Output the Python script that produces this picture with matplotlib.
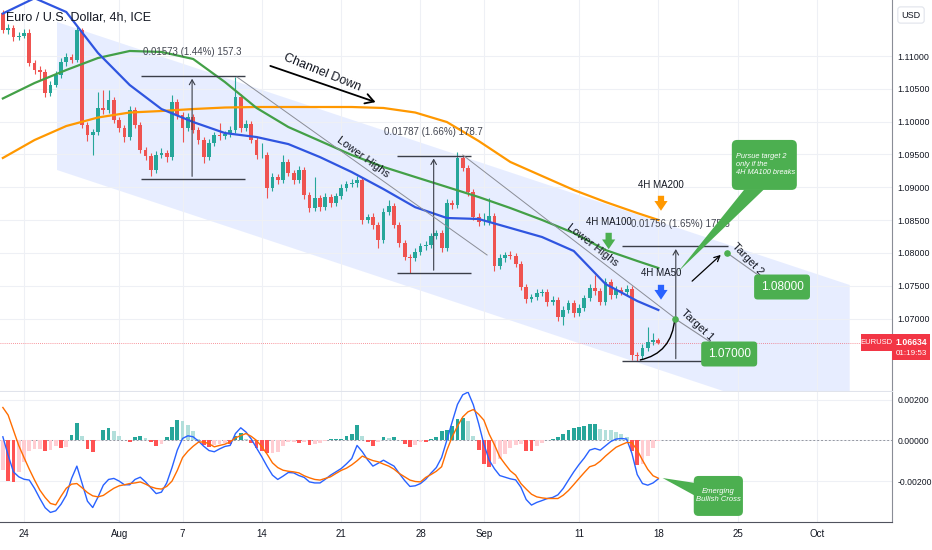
import matplotlib
matplotlib.use('Agg')
import matplotlib.pyplot as plt
import matplotlib.transforms as mtransforms
from matplotlib.patches import Polygon, FancyBboxPatch, PathPatch, Rectangle
from matplotlib.path import Path
import numpy as np

plt.rcParams['font.family'] = ['Liberation Sans', 'DejaVu Sans']

# ---- data (8h bars, bar index 0..124) ----
first_open = 1.11657
closes = [1.11402, 1.11433, 1.11296, 1.11311, 1.11357, 1.10899, 1.10793, 1.10762, 1.10442, 1.10564,
          1.10716, 1.10915, 1.10991, 1.10945, 1.11402, 1.09950, 1.09797, 1.09843, 1.10209, 1.10178,
          1.10331, 1.10026, 1.09904, 1.09767, 1.10178, 1.09950, 1.09569, 1.09477, 1.09264, 1.09492,
          1.09523, 1.09462, 1.10300, 1.10102, 1.09904, 1.10072, 1.09873, 1.09721, 1.09462, 1.09675,
          1.09797, 1.09782, 1.09812, 1.09873, 1.10376, 1.09904, 1.09965, 1.09721, 1.09492, 1.09492,
          1.08989, 1.09157, 1.09111, 1.09386, 1.09218, 1.09111, 1.09264, 1.08883, 1.08684, 1.08837,
          1.08700, 1.08852, 1.08761, 1.08867, 1.08989, 1.09050, 1.09066, 1.09111, 1.08502, 1.08547,
          1.08425, 1.08197, 1.08623, 1.08715, 1.08425, 1.08151, 1.07938, 1.07922, 1.08014, 1.08105,
          1.08120, 1.08258, 1.08303, 1.08075, 1.08761, 1.08730, 1.09447, 1.09294, 1.08928, 1.08547,
          1.08471, 1.08471, 1.08563, 1.07800, 1.07922, 1.07968, 1.07953, 1.07831, 1.07480, 1.07297,
          1.07328, 1.07389, 1.07404, 1.07252, 1.07282, 1.07023, 1.07130, 1.07236, 1.07084, 1.07160,
          1.07313, 1.07465, 1.07419, 1.07252, 1.07556, 1.07358, 1.07434, 1.07404, 1.07450, 1.06444,
          1.06428, 1.06550, 1.06642, 1.06672, 1.06634]
# wick lengths in pips above / below the body
wick_up = [4, 5, 4, 5, 6, 5, 4, 5, 4, 6, 5, 6, 5, 4, 6, 3, 4, 5, 24, 27,
           15, 4, 5, 4, 6, 5, 4, 5, 4, 6, 8, 4, 11, 5, 4, 6, 5, 4, 5, 6,
           5, 18, 5, 6, 30, 4, 6, 5, 4, 18, 4, 6, 5, 11, 4, 5, 6, 4, 5, 32,
           5, 6, 4, 5, 6, 5, 6, 6, 4, 5, 6, 5, 6, 9, 4, 5, 4, 5, 6, 5,
           6, 5, 5, 4, 6, 5, 9, 5, 4, 5, 6, 14, 27, 4, 6, 5, 6, 4, 5, 4,
           5, 6, 5, 4, 6, 4, 6, 5, 4, 6, 5, 6, 20, 5, 6, 5, 6, 5, 6, 4,
           5, 6, 23, 11, 3]
wick_dn = [5, 7, 6, 5, 4, 5, 6, 12, 6, 5, 4, 5, 6, 5, 4, 5, 9, 30, 5, 6,
           4, 5, 6, 8, 5, 4, 5, 6, 9, 5, 4, 8, 5, 6, 21, 5, 4, 6, 9, 5,
           4, 6, 5, 4, 5, 6, 5, 4, 6, 5, 15, 5, 6, 4, 5, 6, 5, 6, 6, 5,
           6, 5, 6, 4, 5, 4, 5, 6, 6, 5, 6, 12, 5, 4, 5, 6, 5, 23, 5, 4,
           6, 5, 4, 6, 5, 6, 4, 5, 6, 5, 6, 5, 4, 8, 5, 6, 5, 4, 5, 6,
           5, 4, 5, 6, 5, 6, 12, 5, 6, 5, 4, 5, 6, 5, 4, 6, 5, 4, 5, 8,
           8, 5, 4, 5, 3]

ma_idx = [0, 6, 12, 18, 24, 30, 36, 42, 48, 54, 60, 66, 72, 78, 84, 90, 96, 102, 108, 114, 120, 124]
ma50 = [1.11649, 1.11883, 1.11672, 1.11047, 1.10559, 1.10193, 1.09995, 1.09827, 1.09766, 1.09659, 1.09460,
        1.09232, 1.08973, 1.08697, 1.08532, 1.08517, 1.08380, 1.08242, 1.08029, 1.07526, 1.07267, 1.07130]
ma100 = [1.10354, 1.10590, 1.10788, 1.10971, 1.11078, 1.11063, 1.10956, 1.10605, 1.10209, 1.09919, 1.09706,
         1.09492, 1.09310, 1.09157, 1.09005, 1.08852, 1.08684, 1.08502, 1.08303, 1.08044, 1.07877, 1.07770]
ma200 = [1.09447, 1.09721, 1.09934, 1.10064, 1.10140, 1.10163, 1.10193, 1.10216, 1.10224, 1.10224, 1.10224,
         1.10224, 1.10209, 1.10140, 1.09995, 1.09706, 1.09386, 1.09172, 1.08959, 1.08776, 1.08608, 1.08502]

# MACD values in 1e-5
macd_pts = [18, -72, -153, -177, -189, -193, -234, -283, -328, -351,
            -343, -311, -267, -185, -125, -210, -296, -327, -276, -218,
            -190, -185, -198, -216, -216, -190, -179, -202, -231, -259,
            -252, -207, -132, -47, 10, 23, 18, -3, -28, -49,
            -55, -41, -29, -24, 34, 62, 41, 7, -37, -80,
            -127, -169, -190, -174, -156, -158, -171, -180, -202, -207,
            -207, -189, -169, -153, -137, -114, -88, -24, -55, -94,
            -125, -111, -96, -111, -125, -161, -195, -224, -221, -210,
            -189, -159, -132, -83, 2, 91, 176, 223, 236, 174,
            83, -18, -96, -138, -171, -179, -187, -192, -228, -288,
            -315, -302, -293, -283, -278, -265, -234, -193, -153, -117,
            -85, -47, -39, -47, -26, -5, 7, 10, 7, -63,
            -166, -210, -218, -207, -187]
signal_pts = [161, 124, 50, -24, -83, -140, -193, -242, -278, -307,
              -314, -272, -233, -213, -210, -231, -254, -270, -275, -268,
              -250, -233, -221, -216, -210, -207, -202, -213, -226, -234,
              -237, -224, -198, -146, -83, -52, -28, -8, -7, -16,
              -31, -24, -18, -7, 13, 24, 34, 20, 0, -31,
              -67, -109, -132, -145, -150, -153, -158, -172, -182, -190,
              -193, -185, -177, -161, -146, -135, -119, -99, -76, -88,
              -98, -104, -115, -125, -140, -161, -177, -193, -200, -202,
              -180, -166, -150, -128, -47, 18, 70, 115, 140, 151,
              128, 99, 31, -21, -80, -115, -148, -169, -210, -237,
              -262, -275, -280, -283, -283, -283, -267, -244, -215, -185,
              -156, -128, -120, -101, -76, -54, -33, -21, -10, -11,
              -47, -96, -141, -172, -184]

date_idx = [4, 22, 34, 49, 64, 79, 91, 109, 124, 139, 154]
date_lbl = ['24', 'Aug', '7', '14', '21', '28', 'Sep', '11', '18', '25', 'Oct']
price_ticks = [1.070, 1.075, 1.080, 1.085, 1.090, 1.095, 1.100, 1.105, 1.110]
macd_ticks = [-0.002, 0.0, 0.002]

UP, DN = '#26a69a', '#ef5350'
TXT = '#131722'
GRID = '#eef0f5'

fig = plt.figure(figsize=(9.32, 5.5), dpi=100)
ax = fig.add_axes([0, 1 - 391 / 550, 892 / 932, 391 / 550])
ax2 = fig.add_axes([0, 1 - 522 / 550, 892 / 932, 130 / 550])
xlim = (-0.54, 168.2)

# ---- price pane ----
closes = np.array(closes)
n = len(closes)
idx = np.arange(n)
opens = np.r_[first_open, closes[:-1]]
hi = np.maximum(opens, closes) + np.array(wick_up) * 1e-4
lo = np.minimum(opens, closes) - np.array(wick_dn) * 1e-4
col = np.where(closes >= opens, UP, DN)

chan = Polygon([(10.24, 1.11520), (160.2, 1.07511), (160.2, 1.05255), (10.24, 1.09264)],
               closed=True, fc='#2962ff', alpha=0.11, ec='none', zorder=0)
ax.add_patch(chan)

ax.vlines(idx, lo, hi, colors=col, lw=0.8, zorder=2)
body = np.maximum(np.abs(closes - opens), 0.00006)
ax.bar(idx, body, bottom=np.minimum(opens, closes), width=0.72, color=col, lw=0, zorder=3)

ax.plot(ma_idx, ma200, color='#ff9800', lw=1.6, zorder=4)
ax.plot(ma_idx, ma100, color='#43a047', lw=1.6, zorder=4)
ax.plot(ma_idx, ma50, color='#2f55e0', lw=1.6, zorder=4)

ax.axhline(closes[-1], color='#f23645', lw=0.6, ls=(0, (1, 1.5)), alpha=0.7, zorder=1)

ax.set_xlim(*xlim)
ax.set_ylim(1.05895, 1.11855)
ax.set_yticks(price_ticks)
ax.set_yticklabels(['%.5f' % p for p in price_ticks])
ax.yaxis.tick_right()
ax.tick_params(axis='y', length=0, pad=4, labelsize=6.4, labelcolor=TXT)
ax.set_xticks(date_idx)
ax.tick_params(axis='x', length=0, labelbottom=False)
ax.grid(True, color=GRID, lw=0.8, zorder=0)
ax.set_axisbelow(True)
for s in ['top', 'left']:
    ax.spines[s].set_visible(False)
ax.spines['bottom'].set_color('#e0e3eb')
ax.spines['right'].set_color('#8a8d96')

ax.text(6 / 892, 1 - 17 / 391, 'Euro / U.S. Dollar, 4h, ICE', transform=ax.transAxes,
        fontsize=9, color=TXT, ha='left', va='center', zorder=6)

# measure tools
LC = '#3a3e48'
for x0, x1, xm, p0, p1, lab, ty in [
        (26.1, 45.9, 35.8, 1.09124, 1.10697, '0.01573 (1.44%) 157.3', 1.11060),
        (74.5, 88.5, 81.5, 1.07694, 1.09481, '0.01787 (1.66%) 178.7', 1.09843),
        (117.1, 137.2, 127.3, 1.06345, 1.08101, '0.01756 (1.65%) 175.6', 1.08441)]:
    ax.hlines([p0, p1], x0, x1, color=LC, lw=1, zorder=5)
    ax.annotate('', xy=(xm, p1), xytext=(xm, p0),
                arrowprops=dict(arrowstyle='->,head_length=0.35,head_width=0.2', color=LC, lw=0.8), zorder=5)
    ax.text(xm if xm < 120 else xm + 0.9, ty, lab, fontsize=7, color='#434651',
            ha='center', va='center', zorder=6)

# lower highs lines
ax.plot([44.3, 91.6], [1.10681, 1.07968], color='#8a8d96', lw=0.7, zorder=5)
ax.plot([87.0, 127.1], [1.09492, 1.07008], color='#8a8d96', lw=0.7, zorder=5)
ax.text(68.1, 1.09462, 'Lower Highs', rotation=-36, fontsize=8, color=TXT,
        ha='center', va='center', rotation_mode='anchor', zorder=6)
ax.text(111.6, 1.08120, 'Lower Highs', rotation=-38, fontsize=8, color=TXT,
        ha='center', va='center', rotation_mode='anchor', zorder=6)

# channel down arrow
ax.annotate('', xy=(71.0, 1.10285), xytext=(50.1, 1.10864),
            arrowprops=dict(arrowstyle='->,head_length=0.6,head_width=0.35', color='black', lw=1.3), zorder=6)
ax.text(60.4, 1.10742, 'Channel Down', rotation=-22, fontsize=9, color=TXT,
        ha='center', va='center', rotation_mode='anchor', zorder=6)

# MA labels with block arrows
for tx, tp, a0, a1, c, lab in [(124.5, 1.09034, 1.08913, 1.08600, '#ff9800', '4H MA200'),
                               (114.6, 1.08471, 1.08349, 1.08014, '#4caf50', '4H MA100'),
                               (124.5, 1.07694, 1.07556, 1.07245, '#2962ff', '4H MA50')]:
    ax.text(tx, tp, lab, fontsize=7, color=TXT, ha='center', va='center', zorder=7)
    ax.annotate('', xy=(tx, a1), xytext=(tx, a0),
                arrowprops=dict(arrowstyle='simple,head_length=0.7,head_width=0.95,tail_width=0.45',
                                fc=c, ec='none'), zorder=7)

# targets
GREEN = '#4caf50'
ax.plot([127.1, 134.7], [1.07000, 1.06596], color='#8a8d96', lw=0.8, zorder=5)
ax.plot([137.0, 144.2], [1.08000, 1.07587], color='#8a8d96', lw=0.8, zorder=5)
ax.scatter([127.1, 137.0], [1.07000, 1.08000], s=14, color=GREEN, zorder=8)
ax.text(131.3, 1.06901, 'Target 1', rotation=-43, fontsize=8, color=TXT,
        ha='center', va='center', rotation_mode='anchor', zorder=6)
ax.text(140.9, 1.07907, 'Target 2', rotation=-46, fontsize=8, color=TXT,
        ha='center', va='center', rotation_mode='anchor', zorder=6)
for bx, bp, lab in [(137.4, 1.06459, '1.07000'), (147.4, 1.07480, '1.08000')]:
    ax.text(bx, bp, lab, fontsize=8.5, color='white', ha='center', va='center', zorder=8,
            bbox=dict(boxstyle='round,pad=0.55,rounding_size=0.3', fc=GREEN, ec='none'))

arc = Path([(120.5, 1.06367), (126.6, 1.06470), (127.1, 1.07000)],
           [Path.MOVETO, Path.CURVE3, Path.CURVE3])
ax.add_patch(PathPatch(arc, fc='none', ec='black', lw=1, zorder=6))
ax.annotate('', xy=(136.2, 1.07998), xytext=(130.0, 1.07541),
            arrowprops=dict(arrowstyle='->,head_length=0.4,head_width=0.2', color='black', lw=0.9), zorder=6)

# callout: pursue target 2
ax.add_patch(Polygon([(140.3, 1.0897), (144.0, 1.0897), (127.7, 1.07709)], closed=True,
                     fc=GREEN, ec='none', zorder=8))
ax.add_patch(FancyBboxPatch((137.9, 1.0896), 12.3, 0.00762, boxstyle='round,pad=0,rounding_size=1.0',
                            mutation_aspect=0.000806, fc=GREEN, ec='none', zorder=8))
ax.text(138.7, 1.09345, 'Pursue target 2\nonly if the\n4H MA100 breaks', fontsize=5.3,
        style='italic', color='white', ha='left', va='center', linespacing=1.25, zorder=9)

# last price tag
tr = mtransforms.blended_transform_factory(fig.transFigure, ax.transData)
last = closes[-1]
fig.patches.append(Rectangle((861 / 932, 1.06505), 31 / 932, 0.00259, transform=tr, fc='#f23645', ec='none'))
fig.patches.append(Rectangle((892 / 932, 1.06367), 38 / 932, 0.00397, transform=tr, fc='#f23645', ec='none'))
fig.text(876.5 / 932, last, 'EURUSD', transform=tr, fontsize=5.5, color='white', ha='center', va='center')
fig.text(911 / 932, last, '%.5f' % last, transform=tr, fontsize=6.2, color='white', ha='center',
         va='center', fontweight='bold')
fig.text(911 / 932, 1.06474, '01:19:53', transform=tr, fontsize=5.8, color='white', ha='center', va='center')
fig.text(911 / 932, 1 - 15 / 550, 'USD', fontsize=6.5, color=TXT, ha='center', va='center',
         bbox=dict(boxstyle='round,pad=0.4,rounding_size=0.3', fc='white', ec='#e0e3eb', lw=0.8))

# ---- MACD pane ----
macd = np.array(macd_pts) * 1e-5
signal = np.array(signal_pts) * 1e-5
hist = macd - signal
prev = np.r_[hist[0], hist[:-1]]
hcol = np.where(hist >= 0, np.where(hist >= prev, '#26a69a', '#b2dfdb'),
                np.where(hist < prev, '#ff5252', '#ffcdd2'))
ax2.bar(idx, hist, width=0.72, color=hcol, lw=0, zorder=2)
ax2.plot(idx, macd, color='#2962ff', lw=1, zorder=3)
ax2.plot(idx, signal, color='#ff6d00', lw=1, zorder=3)
ax2.axhline(0, color='#9598a1', lw=0.7, ls=(0, (2, 2)), zorder=1)

ax2.add_patch(Polygon([(130.9, -0.00207), (131.4, -0.00276), (124.8, -0.00183)], closed=True,
                      fc=GREEN, ec='none', zorder=8))
ax2.add_patch(FancyBboxPatch((130.7, -0.00368), 9.3, 0.00195, boxstyle='round,pad=0,rounding_size=0.9',
                             mutation_aspect=0.000258, fc=GREEN, ec='none', zorder=8))
ax2.text(135.35, -0.00270, 'Emerging\nBullish Cross', fontsize=5.5, style='italic',
         color='white', ha='center', va='center', linespacing=1.2, zorder=9)

ax2.set_xlim(*xlim)
ax2.set_ylim(-0.003976, 0.002366)
ax2.set_yticks(macd_ticks)
ax2.set_yticklabels(['%.5f' % v for v in macd_ticks])
ax2.yaxis.tick_right()
ax2.tick_params(axis='y', length=0, pad=4, labelsize=6.2, labelcolor=TXT)
ax2.set_xticks(date_idx)
ax2.set_xticklabels(date_lbl)
ax2.tick_params(axis='x', length=0, pad=5, labelsize=7, labelcolor=TXT)
ax2.grid(True, color=GRID, lw=0.8, zorder=0)
ax2.set_axisbelow(True)
for s in ['top', 'left']:
    ax2.spines[s].set_visible(False)
ax2.spines['bottom'].set_color('#50535e')
ax2.spines['right'].set_color('#8a8d96')

fig.savefig('out.png', dpi=100, facecolor='white')
